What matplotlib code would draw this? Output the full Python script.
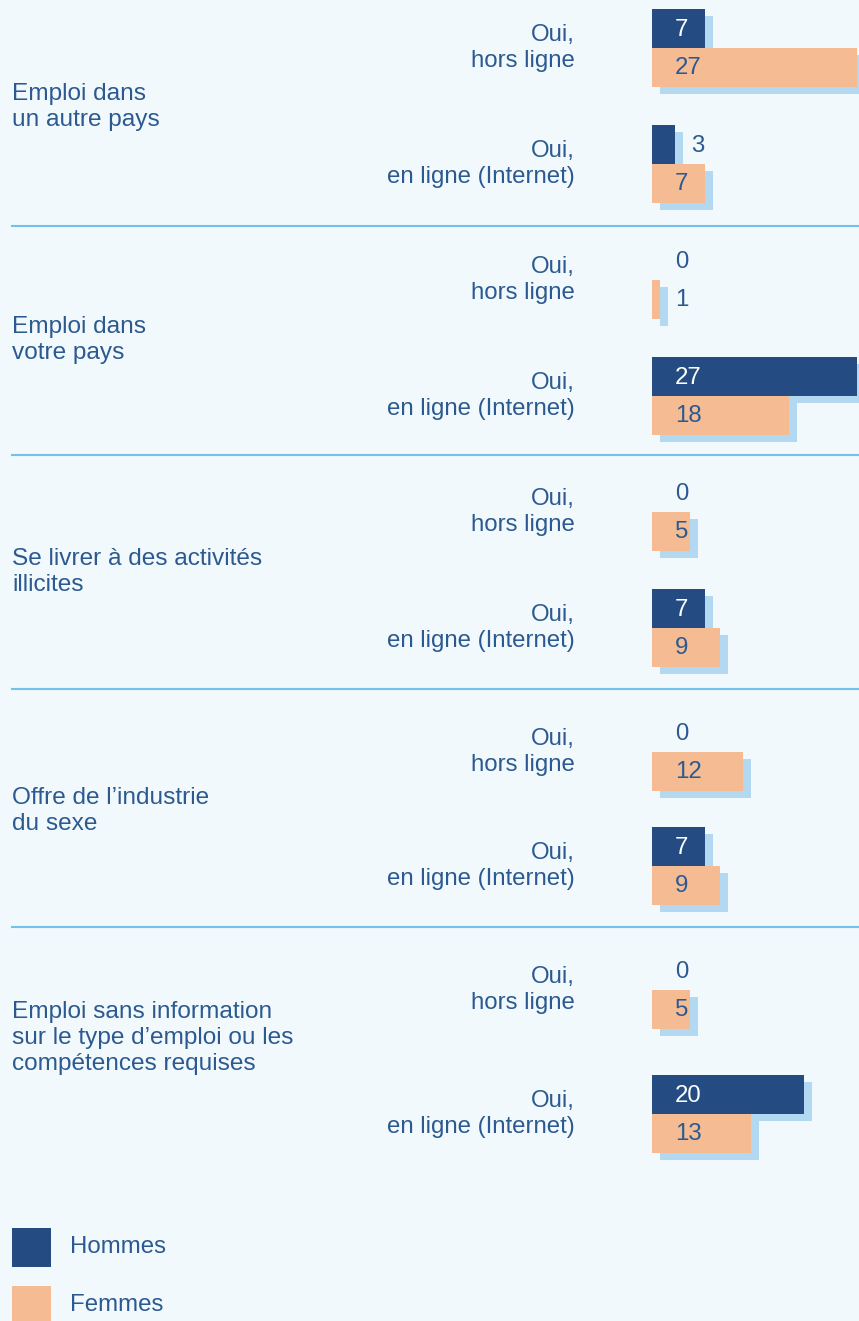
import matplotlib.pyplot as plt
from matplotlib.patches import Rectangle

# données
categories = [
    "Emploi dans\nun autre pays",
    "Emploi dans\nvotre pays",
    "Se livrer à des activités\nillicites",
    "Offre de l’industrie\ndu sexe",
    "Emploi sans information\nsur le type d’emploi ou les\ncompétences requises",
]
canaux = ["Oui,\nhors ligne", "Oui,\nen ligne (Internet)"]
hommes = [7, 3, 0, 27, 0, 7, 0, 7, 0, 20]
femmes = [27, 7, 1, 18, 5, 9, 12, 9, 5, 13]
series = ["Hommes", "Femmes"]

# mise en page (pixels)
W, H = 859, 1321
x0 = 652            # début des barres
px_unite = 7.6      # pixels par unité
bar_h = 39
hauts = [9, 125, 241, 357, 473, 589, 713, 827, 951, 1075]
separateurs = [226, 455, 689, 927]
cat_y = [107, 340, 572, 811, 1038]
dx, dy = 8, 7       # ombre

bleu = "#244c82"
peche = "#f5bc94"
ombre = "#b3d9f2"
fond = "#f1f9fd"
texte = "#2c5a90"

plt.rcParams['font.family'] = ['Liberation Sans', 'DejaVu Sans']
fs = 17.3
interligne = 1.23

fig = plt.figure(figsize=(W / 100, H / 100), dpi=100)
fig.patch.set_facecolor(fond)

# axe des barres (x en unités)
axb = fig.add_axes([x0 / W, 0, (W - x0) / W, 1])
axb.set_xlim(0, (W - x0) / px_unite)
axb.set_ylim(H, 0)
axb.axis("off")
axb.set_zorder(0)
sx = dx / px_unite

# axe en pixels pour le texte, au-dessus des barres
ax = fig.add_axes([0, 0, 1, 1])
ax.set_xlim(0, W)
ax.set_ylim(H, 0)
ax.axis("off")
ax.set_zorder(1)

for i in range(len(hommes)):
    y = hauts[i]
    for j, v in enumerate([hommes[i], femmes[i]]):
        yy = y + j * bar_h
        if v > 0:
            axb.add_patch(Rectangle((sx, yy + dy), v, bar_h, color=ombre,
                                    zorder=1, clip_on=False, lw=0))
    for j, v in enumerate([hommes[i], femmes[i]]):
        yy = y + j * bar_h
        col = bleu if j == 0 else peche
        if v > 0:
            axb.add_patch(Rectangle((0, yy), v, bar_h, color=col, zorder=2,
                                    clip_on=False, lw=0))
        # étiquette de valeur
        fin = v * px_unite
        if 2 <= v <= 4:
            xt = x0 + fin + 16
            ct = texte
        else:
            xt = x0 + 23
            ct = "white" if (j == 0 and v > 0) else texte
        ax.text(xt, yy + bar_h / 2 + 1, str(v), ha="left", va="center",
                fontsize=fs, color=ct, zorder=5)
    # libellé du canal
    ax.text(575, y + bar_h, canaux[i % 2], ha="right", va="center",
            fontsize=fs, color=texte, linespacing=interligne)

for k, cat in enumerate(categories):
    ax.text(12, cat_y[k], cat, ha="left", va="center", fontsize=fs + 0.3,
            color=texte, linespacing=interligne)

for s in separateurs:
    ax.plot([12, W], [s, s], color="#72c2eb", lw=1.5)

# légende
for k, (nom, col) in enumerate(zip(series, [bleu, peche])):
    ax.add_patch(Rectangle((12, 1228 + k * 58), 39, 39, color=col, lw=0))
    ax.text(70, 1247 + k * 58, nom, ha="left", va="center", fontsize=fs,
            color=texte)

fig.savefig("out.png", dpi=100, facecolor=fond)
